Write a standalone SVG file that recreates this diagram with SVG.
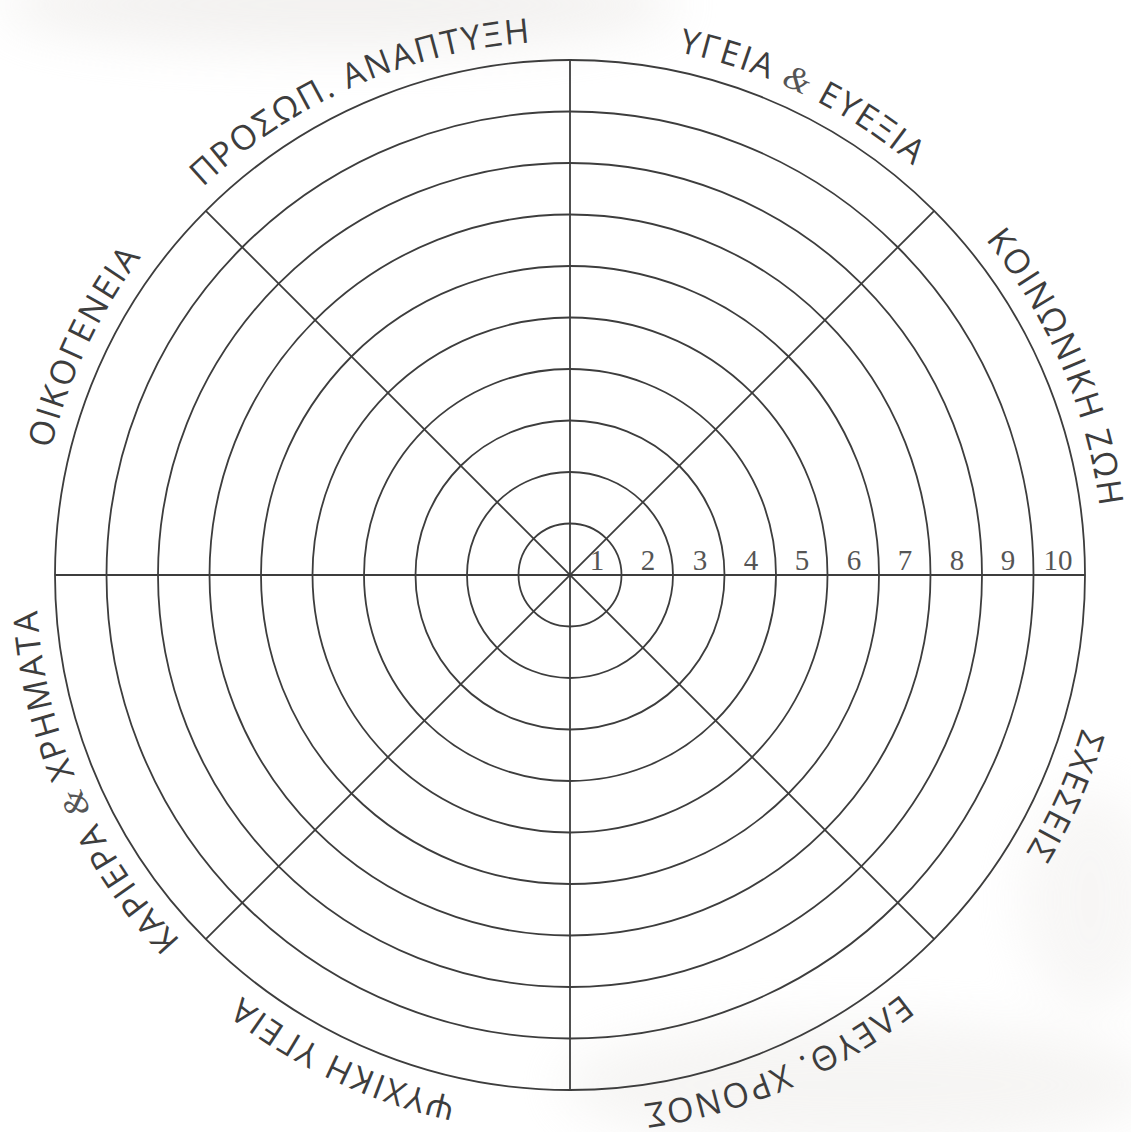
<svg xmlns="http://www.w3.org/2000/svg" xmlns:xlink="http://www.w3.org/1999/xlink" width="1131" height="1132" viewBox="0 0 1131 1132">
<style>
.ring{fill:none;stroke:#3d3d3d;stroke-width:1.8}
.spoke{stroke:#3d3d3d;stroke-width:1.8}
.num{font-family:"Liberation Serif",serif;font-size:29px;fill:#555;text-anchor:middle}
.lbl{font-family:"Open Sans","Noto Sans",sans-serif;font-size:34px;fill:#3d3d3d;letter-spacing:2px}
.amp{font-family:"Liberation Serif",serif;font-style:italic;font-size:34px;fill:#555}
</style>
<defs>
<path id="lp" d="M570,41 A534,534 0 0 1 570,1109 A534,534 0 0 1 570,41"/>
<filter id="bl" x="-50%" y="-50%" width="200%" height="200%"><feGaussianBlur stdDeviation="25"/></filter>
</defs>
<rect width="1131" height="1132" fill="#ffffff"/>
<g id="texture" filter="url(#bl)" opacity="0.45">
<ellipse cx="340" cy="5" rx="340" ry="45" fill="#e4e1de"/>
<ellipse cx="860" cy="1085" rx="300" ry="65" fill="#ebe9e6"/>
<ellipse cx="1090" cy="900" rx="70" ry="110" fill="#efedeb"/>
</g>
<g id="wheel">
<g id="rings">
<circle class="ring" cx="570" cy="575" r="51.5"/>
<circle class="ring" cx="570" cy="575" r="103"/>
<circle class="ring" cx="570" cy="575" r="154.5"/>
<circle class="ring" cx="570" cy="575" r="206"/>
<circle class="ring" cx="570" cy="575" r="257.5"/>
<circle class="ring" cx="570" cy="575" r="309"/>
<circle class="ring" cx="570" cy="575" r="360.5"/>
<circle class="ring" cx="570" cy="575" r="412"/>
<circle class="ring" cx="570" cy="575" r="463.5"/>
<circle class="ring" cx="570" cy="575" r="515"/>
</g>
<g id="connectors">
<line class="spoke" x1="55" y1="575" x2="1085" y2="575"/>
<line class="spoke" x1="570" y1="60" x2="570" y2="1090"/>
<line class="spoke" x1="205.8" y1="210.8" x2="934.2" y2="939.2"/>
<line class="spoke" x1="934.2" y1="210.8" x2="205.8" y2="939.2"/>
</g>
<g id="numbers">
<text class="num" x="597" y="570">1</text>
<text class="num" x="648" y="570">2</text>
<text class="num" x="700" y="570">3</text>
<text class="num" x="751" y="570">4</text>
<text class="num" x="802" y="570">5</text>
<text class="num" x="854" y="570">6</text>
<text class="num" x="905" y="570">7</text>
<text class="num" x="957" y="570">8</text>
<text class="num" x="1008" y="570">9</text>
<text class="num" x="1058" y="570">10</text>
</g>
</g>
<g id="labels">
<g id="l-health"><text class="lbl" text-anchor="middle"><textPath xlink:href="#lp" href="#lp" startOffset="7.2%">ΥΓΕΙΑ <tspan class="amp">&amp;</tspan> ΕΥΕΞΙΑ</textPath></text></g>
<g id="l-social"><text class="lbl" text-anchor="middle"><textPath xlink:href="#lp" href="#lp" startOffset="18.6%">ΚΟΙΝΩΝΙΚΗ ΖΩΗ</textPath></text></g>
<g id="l-rel"><text class="lbl" text-anchor="middle"><textPath xlink:href="#lp" href="#lp" startOffset="31.7%">ΣΧΕΣΕΙΣ</textPath></text></g>
<g id="l-free"><text class="lbl" text-anchor="middle"><textPath xlink:href="#lp" href="#lp" startOffset="43.6%">ΕΛΕΥΘ. ΧΡΟΝΟΣ</textPath></text></g>
<g id="l-mental"><text class="lbl" text-anchor="middle"><textPath xlink:href="#lp" href="#lp" startOffset="57.0%">ΨΥΧΙΚΗ ΥΓΕΙΑ</textPath></text></g>
<g id="l-career"><text class="lbl" text-anchor="middle"><textPath xlink:href="#lp" href="#lp" startOffset="68.5%">ΚΑΡΙΕΡΑ <tspan class="amp">&amp;</tspan> ΧΡΗΜΑΤΑ</textPath></text></g>
<g id="l-family"><text class="lbl" text-anchor="middle"><textPath xlink:href="#lp" href="#lp" startOffset="82.0%">ΟΙΚΟΓΕΝΕΙΑ</textPath></text></g>
<g id="l-growth"><text class="lbl" text-anchor="middle"><textPath xlink:href="#lp" href="#lp" startOffset="93.4%">ΠΡΟΣΩΠ. ΑΝΑΠΤΥΞΗ</textPath></text></g>
</g>
</svg>
